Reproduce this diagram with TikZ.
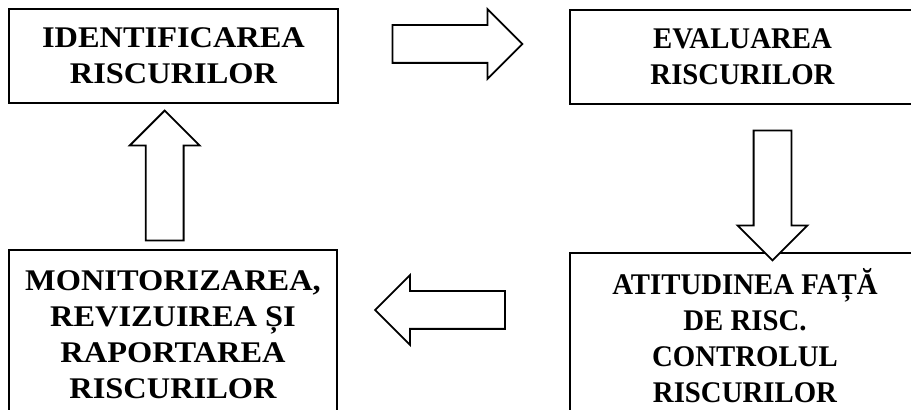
\documentclass[tikz,border=0pt]{standalone}
\usepackage{fontspec}
\setmainfont{Liberation Serif}
\newfontfamily\wideserif[FakeStretch=1.08]{Liberation Serif}
\newfontfamily\narrowserif[FakeStretch=0.96]{Liberation Serif}
\usetikzlibrary{shapes.arrows}
\tikzset{
  box/.style={rectangle, draw=black, line width=1pt, align=center, inner sep=0pt,
    font=\bfseries\fontsize{15}{18}\selectfont},
  wbox/.style={box, font=\wideserif\bfseries\fontsize{15}{18}\selectfont},
  nbox/.style={box, font=\narrowserif\bfseries\fontsize{15}{18}\selectfont},
  bigarrow/.style={single arrow, draw=black, line width=0.9pt, fill=white,
    inner xsep=0pt, inner ysep=9pt, single arrow head extend=8pt, minimum height=65pt},
}
\begin{document}
\begin{tikzpicture}[x=0.5pt,y=-0.5pt]
  \useasboundingbox (0,0) rectangle (911,410);
  \clip (0,0) rectangle (911,410);

  \node[wbox, minimum width=164.5pt, minimum height=47pt] (ident) at (173.5,56) {IDENTIFICAREA\\RISCURILOR};
  \node[nbox, minimum width=172.5pt, minimum height=47pt] (eval) at (742.5,57) {EVALUAREA\\RISCURILOR};
  \node[nbox, minimum width=175pt, minimum height=83pt] (atit) at (745,336) {ATITUDINEA FAȚĂ\\DE RISC.\\CONTROLUL\\RISCURILOR};
  \node[wbox, minimum width=164pt, minimum height=85pt] (monit) at (173,335) {MONITORIZAREA,\\REVIZUIREA ȘI\\RAPORTAREA\\RISCURILOR};

  \node[bigarrow] (arr1) at (448,44) {};
  \node[bigarrow, rotate=-90] (arr2) at (772.5,186) {};
  \node[bigarrow, rotate=180] (arr3) at (449.5,310) {};
  \node[bigarrow, rotate=90] (arr4) at (164.7,185) {};
\end{tikzpicture}
\end{document}
